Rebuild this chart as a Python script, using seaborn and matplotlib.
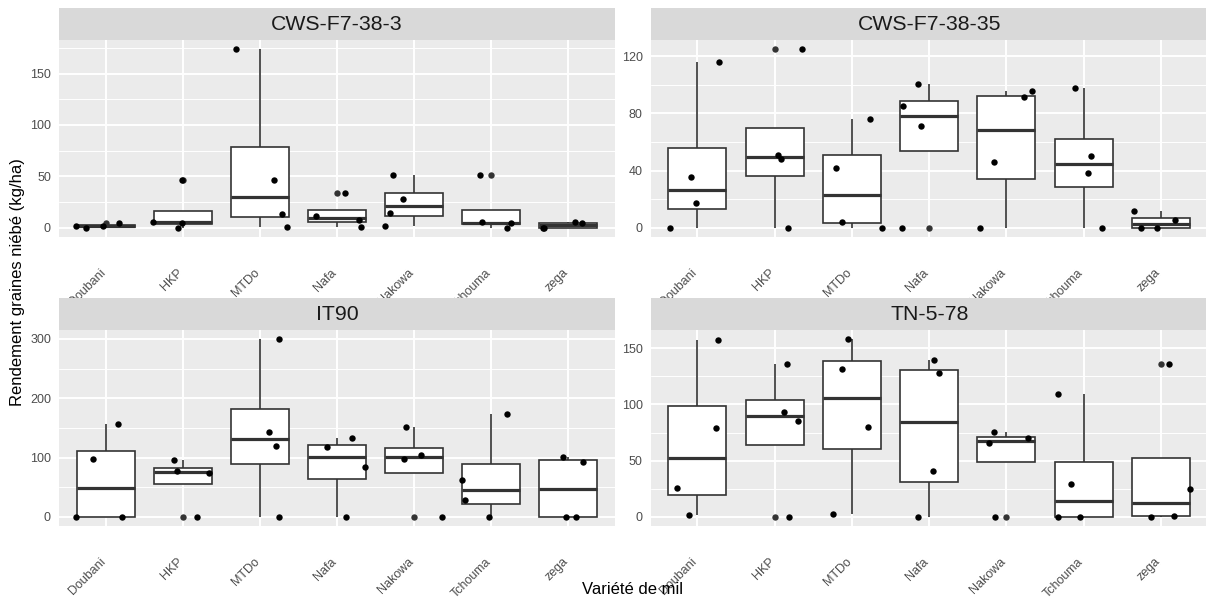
import numpy as np
import pandas as pd
import matplotlib
matplotlib.use("Agg")
import matplotlib.pyplot as plt
from matplotlib.ticker import AutoMinorLocator
import seaborn as sns

# Millet varieties on the x axis, one facet per cowpea variety
categories = ["Doubani", "HKP", "MTDo", "Nafa", "Nakowa", "Tchouma", "zega"]
panel_titles = ["CWS-F7-38-3", "CWS-F7-38-35", "IT90", "TN-5-78"]

# Cowpea grain yield (kg/ha), four plots per millet variety
cws_f7_38_3 = [
    [0.0, 1.3, 1.6, 4.3],
    [0.0, 4.9, 6.0, 46.2],
    [1.0, 13.7, 46.2, 174.0],
    [1.0, 7.5, 11.4, 34.0],
    [1.6, 14.6, 28.0, 51.0],
    [0.0, 4.2, 5.2, 51.7],
    [0.0, 0.0, 4.6, 5.9],
]
cws_f7_38_35 = [
    [0.0, 17.3, 35.6, 116.3],
    [0.0, 48.2, 51.0, 125.1],
    [0.0, 4.2, 42.1, 76.3],
    [0.0, 71.5, 84.9, 100.6],
    [0.0, 45.8, 91.2, 95.7],
    [0.0, 38.1, 50.5, 97.8],
    [0.0, 0.0, 5.1, 11.5],
]
it90 = [
    [0.0, 0.0, 97.0, 155.7],
    [0.0, 73.3, 77.3, 96.4],
    [0.0, 119.6, 143.3, 300.0],
    [0.0, 84.0, 117.3, 132.5],
    [0.0, 97.6, 104.9, 151.2],
    [0.0, 28.8, 61.5, 173.7],
    [0.0, 0.0, 93.0, 101.5],
]
tn_5_78 = [
    [1.5, 25.5, 79.0, 157.1],
    [0.0, 85.2, 93.3, 135.7],
    [2.1, 79.6, 131.9, 158.3],
    [0.0, 40.7, 127.7, 139.3],
    [0.0, 65.3, 69.8, 75.4],
    [0.0, 0.0, 28.8, 109.3],
    [0.0, 0.5, 24.4, 136.0],
]
panel_values = [cws_f7_38_3, cws_f7_38_35, it90, tn_5_78]
panel_yticks = [[0, 50, 100, 150], [0, 40, 80, 120], [0, 100, 200, 300], [0, 50, 100, 150]]

x_title = "Variété de mil"
y_title = "Rendement graines niébé (kg/ha)"

sns.set_theme(style="white")
plt.rcParams["font.family"] = ["Liberation Sans", "DejaVu Sans"]

GREY20 = "#333333"
GREY30 = "#4D4D4D"
PANEL_BG = "#EBEBEB"
STRIP_BG = "#D9D9D9"
POINT_SIZE = 4.6

W, H = 1206, 605
fig = plt.figure(figsize=(W / 100, H / 100), dpi=100)
fig.patch.set_facecolor("white")


def px_axes(x0, y0, x1, y1):
    return fig.add_axes([x0 / W, 1 - y1 / H, (x1 - x0) / W, (y1 - y0) / H])


def long_frame(values):
    rows = [(cat, v) for cat, vals in zip(categories, values) for v in vals]
    return pd.DataFrame(rows, columns=["variete", "rendement"])


col_edges = [(59.3, 614.7), (651.0, 1207.4)]
row_edges = [((8.3, 40.0), (40.0, 236.6)), ((298.3, 330.0), (330.0, 525.7))]

np.random.seed(11)

for i, (title, values, yt) in enumerate(zip(panel_titles, panel_values, panel_yticks)):
    r, c = divmod(i, 2)
    (sy0, sy1), (py0, py1) = row_edges[r]
    x0, x1 = col_edges[c]

    ax = px_axes(x0, py0, x1, py1)
    ax.set_facecolor(PANEL_BG)
    ax.set_axisbelow(True)
    df = long_frame(values)

    sns.boxplot(
        data=df, x="variete", y="rendement", order=categories, ax=ax,
        color="white", linecolor=GREY20, linewidth=1.2, width=0.75,
        saturation=1, showcaps=False, fliersize=POINT_SIZE,
        flierprops=dict(marker="o", markerfacecolor=GREY20,
                        markeredgecolor=GREY20, markeredgewidth=0,
                        markersize=POINT_SIZE),
        medianprops=dict(linewidth=2.3, color=GREY20),
        zorder=2,
    )
    sns.stripplot(
        data=df, x="variete", y="rendement", order=categories, ax=ax,
        color="black", size=POINT_SIZE, jitter=0.4, linewidth=0, zorder=3,
    )

    lo, hi = df["rendement"].min(), df["rendement"].max()
    pad = 0.05 * (hi - lo)
    ax.set_ylim(lo - pad, hi + pad)
    ax.set_xlim(-0.6, len(categories) - 0.4)

    ax.set_yticks(yt)
    ax.yaxis.set_minor_locator(AutoMinorLocator(2))
    ax.grid(True, which="major", color="white", linewidth=1.4)
    ax.grid(True, which="minor", axis="y", color="white", linewidth=0.7)
    for s in ax.spines.values():
        s.set_visible(False)

    ax.set_xticks(range(len(categories)))
    ax.set_xticklabels(categories, rotation=45, ha="right", va="baseline",
                       rotation_mode="anchor")
    ax.tick_params(axis="x", which="major", length=3.8, width=1.1, color=GREY20,
                   labelcolor=GREY30, labelsize=9, pad=22.4)
    ax.tick_params(axis="y", which="major", length=3.8, width=1.1, color=GREY20,
                   labelcolor=GREY30, labelsize=9, pad=2.2)
    ax.tick_params(axis="y", which="minor", length=0)
    ax.set_xlabel("")
    ax.set_ylabel("")

    sax = px_axes(x0, sy0, x1, sy1)
    sax.set_facecolor(STRIP_BG)
    sax.set_xticks([])
    sax.set_yticks([])
    for s in sax.spines.values():
        s.set_visible(False)
    sax.text(0.5, 0.5, title, transform=sax.transAxes, ha="center", va="center",
             fontsize=15.3, color="#1A1A1A")

fig.text(633 / W, 1 - 590 / H, x_title, ha="center", va="center",
         fontsize=12, color="black")
fig.text(18 / W, 1 - 282 / H, y_title, ha="center", va="center",
         rotation=90, fontsize=12, color="black")

fig.savefig("out.png", dpi=100)
